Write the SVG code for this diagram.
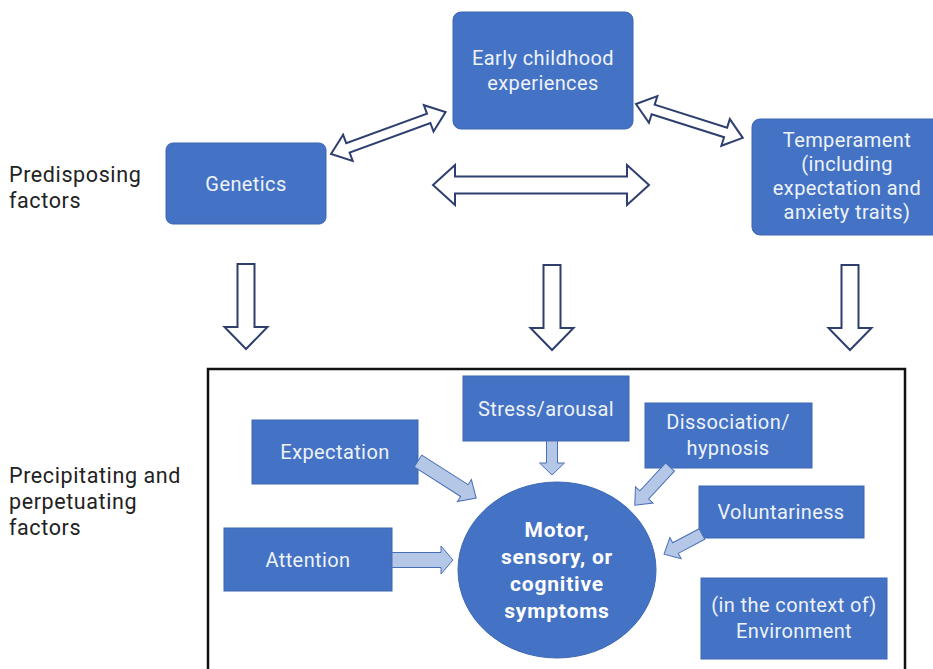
<svg xmlns="http://www.w3.org/2000/svg" width="933" height="669" viewBox="0 0 933 669">
<style>
.box{fill:#4472c4;stroke:#3d67b3;stroke-width:1}
.t{font-family:Roboto,"Liberation Sans",sans-serif;font-size:20px;letter-spacing:0.4px;fill:#eef2f9;text-anchor:middle}
.b{font-family:Roboto,"Liberation Sans",sans-serif;font-size:21px;letter-spacing:0.8px;font-weight:bold;fill:#ffffff;text-anchor:middle}
.lab{font-family:Roboto,"Liberation Sans",sans-serif;font-size:21.5px;letter-spacing:0.6px;fill:#222222}
.dbl{fill:#ffffff;stroke:#2e3f6f;stroke-width:2;stroke-linejoin:miter}
.lt{fill:#b4c7e7;stroke:#4a6fb5;stroke-width:1}
</style>
<rect width="933" height="669" fill="#ffffff"/>

<g id="label-predisposing">
<text class="lab" x="9" y="182">Predisposing</text>
<text class="lab" x="9" y="208">factors</text>
</g>
<g id="label-precipitating">
<text class="lab" x="9" y="483">Precipitating and</text>
<text class="lab" x="9" y="509">perpetuating</text>
<text class="lab" x="9" y="535">factors</text>
</g>

<g id="frame">
<rect x="208" y="369" width="697" height="310" fill="none" stroke="#111111" stroke-width="2.5"/>
</g>

<g id="genetics">
<rect class="box" x="166" y="143" width="160" height="81" rx="7"/>
<text class="t" x="246" y="191">Genetics</text>
</g>
<g id="early-childhood">
<rect class="box" x="453" y="12" width="180" height="117" rx="8"/>
<text class="t" x="543" y="65">Early childhood</text>
<text class="t" x="543" y="90">experiences</text>
</g>
<g id="temperament">
<rect class="box" x="752" y="119" width="190" height="116" rx="8"/>
<text class="t" x="847" y="147">Temperament</text>
<text class="t" x="847" y="171">(including</text>
<text class="t" x="847" y="195">expectation and</text>
<text class="t" x="847" y="219">anxiety traits)</text>
</g>

<g id="stress">
<rect class="box" x="463" y="376" width="166" height="65"/>
<text class="t" x="546" y="416">Stress/arousal</text>
</g>
<g id="expectation">
<rect class="box" x="252" y="420" width="166" height="64"/>
<text class="t" x="335" y="459">Expectation</text>
</g>
<g id="dissociation">
<rect class="box" x="645" y="403" width="167" height="65"/>
<text class="t" x="728" y="429">Dissociation/</text>
<text class="t" x="728" y="455">hypnosis</text>
</g>
<g id="voluntariness">
<rect class="box" x="699" y="486" width="165" height="52"/>
<text class="t" x="781" y="519">Voluntariness</text>
</g>
<g id="attention">
<rect class="box" x="224" y="528" width="168" height="63"/>
<text class="t" x="308" y="567">Attention</text>
</g>
<g id="environment">
<rect class="box" x="701" y="578" width="186" height="81"/>
<text class="t" x="794" y="612">(in the context of)</text>
<text class="t" x="794" y="638">Environment</text>
</g>
<g id="symptoms">
<ellipse class="box" cx="557" cy="570" rx="99" ry="88"/>
<text class="b" x="557" y="537">Motor,</text>
<text class="b" x="557" y="564">sensory, or</text>
<text class="b" x="557" y="591">cognitive</text>
<text class="b" x="557" y="618">symptoms</text>
</g>

<g id="connectors">
<polygon class="dbl" transform="translate(331,154) rotate(-20.06)" points="0,0 18,-14 18,-5 104,-5 104,-14 122,0 104,14 104,5 18,5 18,14"/>
<polygon class="dbl" transform="translate(636,104) rotate(17.6)" points="0,0 18,-14 18,-5 94,-5 94,-14 112,0 94,14 94,5 18,5 18,14"/>
<polygon class="dbl" transform="translate(433,185)" points="0,0 22,-20 22,-8.5 194,-8.5 194,-20 216,0 194,20 194,8.5 22,8.5 22,20"/>
<polygon class="dbl" transform="translate(246,264)" points="-8.5,0 8.5,0 8.5,63 21.5,63 0,85 -21.5,63 -8.5,63"/>
<polygon class="dbl" transform="translate(552,265)" points="-8.5,0 8.5,0 8.5,63 21.5,63 0,85 -21.5,63 -8.5,63"/>
<polygon class="dbl" transform="translate(850,265)" points="-8.5,0 8.5,0 8.5,63 21.5,63 0,85 -21.5,63 -8.5,63"/>
<polygon class="lt" transform="translate(552,441)" points="-5.5,0 5.5,0 5.5,22 12.5,22 0,34 -12.5,22 -5.5,22"/>
<polygon class="lt" transform="translate(418,461) rotate(32.5)" points="0,-7 55,-7 55,-13 69,0 55,13 55,7 0,7"/>
<polygon class="lt" transform="translate(670,467) rotate(132.6)" points="0,-6 38,-6 38,-12 52,0 38,12 38,6 0,6"/>
<polygon class="lt" transform="translate(702,534) rotate(152)" points="0,-6 30,-6 30,-12 43,0 30,12 30,6 0,6"/>
<polygon class="lt" transform="translate(392,560)" points="0,-7.5 49,-7.5 49,-14 61,0 49,14 49,7.5 0,7.5"/>
</g>
</svg>
